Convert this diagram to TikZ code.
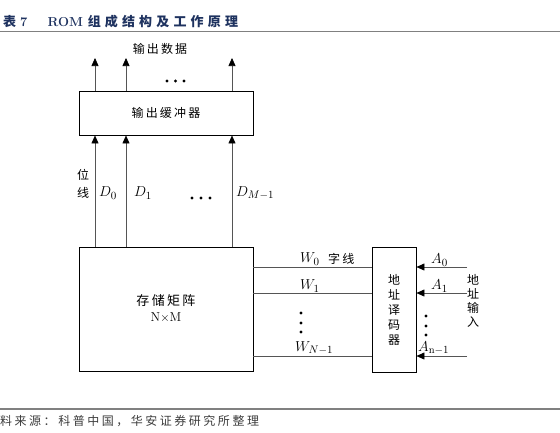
\documentclass[tikz,border=0pt]{standalone}
\usepackage{fontspec}
\usepackage{amsmath}
\usetikzlibrary{arrows.meta}
\newfontfamily\cjk{Noto Sans CJK SC}
\newfontfamily\cjksp{Noto Sans CJK SC}[LetterSpace=18]
\newfontfamily\cjkttl{Noto Sans CJK SC}[LetterSpace=32]
\newfontfamily\cjksrc{Noto Sans CJK SC}[LetterSpace=21]
\definecolor{navy}{RGB}{30,50,95}
\definecolor{rulegray}{RGB}{128,128,128}
\definecolor{wiregray}{RGB}{85,85,85}
\definecolor{srctext}{RGB}{60,60,60}

\begin{document}
\begin{tikzpicture}[x=1pt,y=-1pt,
  blockbox/.style={draw=black,line width=0.9pt,inner sep=0pt,align=center},
  wireline/.style={draw=wiregray,line width=0.6pt},
  sigarrow/.style={wireline,-{Triangle[length=8pt,width=7pt,color=black]}},
  cn/.style={font=\fontsize{12}{15}\selectfont\cjksp,inner sep=0pt,align=center},
  cnv/.style={font=\fontsize{12}{15}\selectfont\cjk,inner sep=0pt,align=center},
  mathlbl/.style={font=\fontsize{15}{17}\selectfont,inner sep=0pt,anchor=west}]
\useasboundingbox (0,0) rectangle (560,432);

% title and rules
\node[anchor=base west,inner sep=0pt,text=navy,font=\fontsize{13}{15}\selectfont\bfseries]
  (title) at (3,26) {{\cjkttl 表}\hspace{4pt}7\hspace{20pt}ROM {\cjkttl 组成结构及工作原理}};
\draw[rulegray,line width=1pt] (0,31) -- (560,31);
\draw[rulegray,line width=1.2pt] (0,409) -- (560,409);
\node[anchor=west,inner sep=0pt,text=srctext,font=\fontsize{12}{14}\selectfont\cjksrc]
  (source) at (0,421) {料来源：科普中国，华安证券研究所整理};

% blocks
\node[blockbox,cn,minimum width=174pt,minimum height=44pt] (buf) at (166,113) {输出缓冲器};
\node[blockbox,minimum width=174pt,minimum height=124pt,font=\fontsize{13}{16}\selectfont]
  (mat) at (166,309) {{\cjksp 存储矩阵}\\N$\times$M};
\node[blockbox,cnv,minimum width=44pt,minimum height=125pt] (dec) at (394,309.5)
  {地\\址\\译\\码\\器};

% output data and bit lines
\foreach \x [count=\i] in {95,126,232} {
  \coordinate (out\i) at (\x,58);
  \draw[sigarrow] (buf.north -| out\i) -- (out\i);
  \draw[sigarrow] (mat.north -| out\i) -- (buf.south -| out\i);
}
\node[cn] (outlbl) at (160,49) {输出数据};
\foreach \x in {167,175.5,184} \fill (\x,81) circle (1.7);
\node[cnv,font=\fontsize{12}{18}\selectfont\cjk] (bitlbl) at (83,184) {位\\线};
\node[mathlbl] (d0) at (99,193) {$D_0$};
\node[mathlbl] (d1) at (134,193) {$D_1$};
\node[mathlbl] (dm) at (236,193) {$D_{M-1}$};
\foreach \x in {192,201,210} \fill (\x,198) circle (1.7);

% word lines and address inputs
\foreach \y [count=\i] in {267,293,356} {
  \coordinate (w\i) at (0,\y);
  \coordinate (a\i) at (467,\y);
  \draw[wireline] (mat.east |- w\i) -- (dec.west |- w\i);
  \draw[sigarrow] (a\i) -- (dec.east |- a\i);
}
\node[mathlbl] (w0lbl) at (300,259) {$W_0$};
\node[cn,anchor=west] (wordlbl) at (328,259) {字线};
\node[mathlbl] (w1lbl) at (300,286) {$W_1$};
\node[mathlbl] (wnlbl) at (295,348) {$W_{N-1}$};
\foreach \y in {313,323,332} \fill (301,\y) circle (1.7);

\node[mathlbl] (a0lbl) at (431,260) {$A_0$};
\node[mathlbl] (a1lbl) at (431,286) {$A_1$};
\node[mathlbl] (anlbl) at (418,348) {$A_{\mathrm{n}-1}$};
\foreach \y in {316,326,335} \fill (426,\y) circle (1.7);
\node[cnv,font=\fontsize{12}{14}\selectfont\cjk] (addrlbl) at (473,301) {地\\址\\输\\入};
\end{tikzpicture}
\end{document}
